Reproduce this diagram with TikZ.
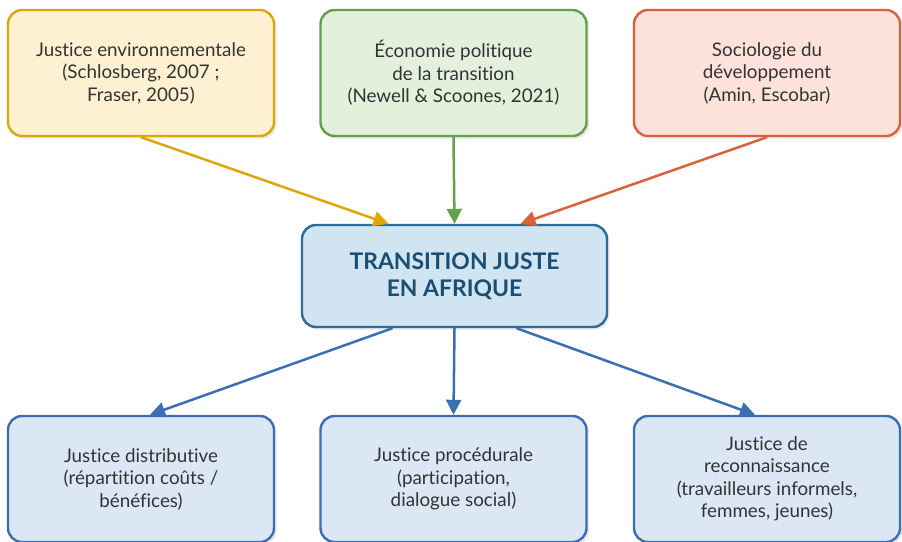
\documentclass[tikz,border=0pt]{standalone}
\usepackage{fontspec}
\setmainfont[Ligatures={NoCommon}]{Lato}
\usetikzlibrary{arrows.meta,shadows}

\definecolor{yelline}{HTML}{DDA709}
\definecolor{yelfill}{HTML}{FDF1D2}
\definecolor{grnline}{HTML}{62A14A}
\definecolor{grnfill}{HTML}{E3F0DC}
\definecolor{orgline}{HTML}{D9623C}
\definecolor{orgfill}{HTML}{FCE2DA}
\definecolor{cenline}{HTML}{2D6C98}
\definecolor{cenfill}{HTML}{D0E4F2}
\definecolor{centext}{HTML}{1B4E73}
\definecolor{bluline}{HTML}{3C6EB4}
\definecolor{blufill}{HTML}{DCE7F5}
\definecolor{boxtext}{HTML}{333333}

\begin{document}
\begin{tikzpicture}[x=1pt, y=-1pt,
    box/.style={rounded corners=14pt, line width=2.4pt, minimum width=266pt,
        minimum height=126pt, align=center, text=boxtext,
        font=\fontsize{18.8pt}{22.5pt}\selectfont,
        drop shadow={shadow xshift=2.5pt, shadow yshift=-2.5pt, opacity=0.18, fill=gray}},
    link/.style={line width=2.5pt, -{Triangle[length=15pt, width=15pt]}}]
    \useasboundingbox (0,0) rectangle (902,541);

    % sources
    \node[box, draw=yelline, fill=yelfill] (envj) at (141,73) {Justice environnementale\\(Schlosberg, 2007 ;\\Fraser, 2005)};
    \node[box, draw=grnline, fill=grnfill] (ecop) at (453.5,73) {Économie politique\\de la transition\\(Newell \& Scoones, 2021)};
    \node[box, draw=orgline, fill=orgfill] (soci) at (767,73) {Sociologie du\\développement\\(Amin, Escobar)};

    % centre
    \node[box, draw=cenline, fill=cenfill, minimum width=305pt, minimum height=102pt,
        text=centext, font=\fontsize{22.9pt}{27pt}\selectfont\bfseries] (cen) at (454.5,276) {TRANSITION JUSTE\\EN AFRIQUE};

    % dimensions
    \node[box, draw=bluline, fill=blufill] (dist) at (141,479) {Justice distributive\\(répartition coûts /\\bénéfices)};
    \node[box, draw=bluline, fill=blufill] (proc) at (453.5,479) {Justice procédurale\\(participation,\\dialogue social)};
    \node[box, draw=bluline, fill=blufill] (reco) at (767,479) {Justice de\\reconnaissance\\(travailleurs informels,\\femmes, jeunes)};

    \draw[link, yelline] (envj.south) to ([xshift=-66pt]cen.north);
    \draw[link, grnline] (ecop.south) to (cen.north);
    \draw[link, orgline] (soci.south) to ([xshift=66pt]cen.north);

    \draw[link, bluline] ([xshift=-62pt]cen.south) to ([xshift=9pt]dist.north);
    \draw[link, bluline] (cen.south) to (proc.north);
    \draw[link, bluline] ([xshift=62pt]cen.south) to ([xshift=-12pt]reco.north);
\end{tikzpicture}
\end{document}
